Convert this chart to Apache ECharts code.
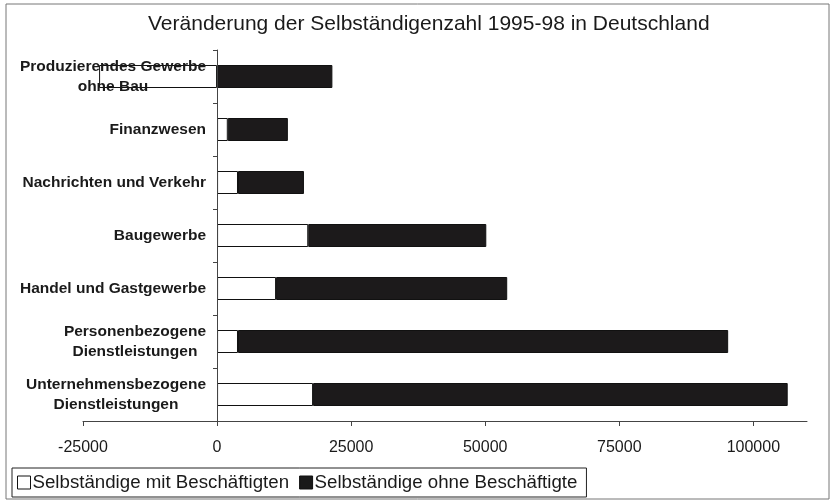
<!DOCTYPE html>
<html>
<head>
<meta charset="utf-8">
<title>Selbständigenzahl 1995-98</title>
<script src="https://cdn.jsdelivr.net/npm/echarts@6/dist/echarts.min.js"></script>
<style>
    html, body { margin: 0; padding: 0; background: #fff; }
    #chart { width: 835px; height: 502px; }
</style>
</head>
<body>
<div id="chart"></div>
<script>
// Branchen, von oben nach unten
var categories = [
    'Produzierendes Gewerbe\nohne Bau',
    'Finanzwesen',
    'Nachrichten und Verkehr',
    'Baugewerbe',
    'Handel und Gastgewerbe',
    'Personenbezogene\nDienstleistungen',
    'Unternehmensbezogene\nDienstleistungen'
];
var mitBeschaeftigten = [-22000, 2000, 3900, 17000, 11000, 3900, 17900];
var ohneBeschaeftigte = [21500, 11200, 12300, 33200, 43100, 91400, 88500];
var xTicks = [-25000, 0, 25000, 50000, 75000, 100000];

var chart = echarts.init(document.getElementById('chart'));

var font = 'Liberation Sans, Arial, sans-serif';

var option = {
    backgroundColor: '#fff',
    animation: false,
    title: {
        text: 'Veränderung der Selbständigenzahl 1995-98 in Deutschland',
        left: 143,
        top: 9,
        textStyle: {
            fontFamily: font,
            fontSize: 21,
            fontWeight: 'normal',
            color: '#1a1a1a'
        }
    },
    graphic: [{
        type: 'rect',
        shape: { x: 6, y: 4, width: 823, height: 495 },
        style: { fill: 'none', stroke: '#777', lineWidth: 1 },
        silent: true
    }],
    legend: {
        left: 12,
        top: 468,
        orient: 'horizontal',
        padding: [5, 9, 5, 5],
        itemGap: 10,
        itemWidth: 13,
        itemHeight: 13,
        borderColor: '#222',
        borderWidth: 1,
        textStyle: {
            fontFamily: font,
            fontSize: 18.7,
            color: '#1a1a1a',
            padding: [0, 0, 0, -3]
        },
        data: [{
            name: 'Selbständige mit Beschäftigten',
            icon: 'rect',
            itemStyle: { color: '#fff', borderColor: '#111', borderWidth: 1 }
        }, {
            name: 'Selbständige ohne Beschäftigte',
            icon: 'rect',
            itemStyle: { color: '#1a1a1a', borderColor: '#111', borderWidth: 1 }
        }]
    },
    grid: {
        left: 83,
        right: 28,
        top: 50,
        bottom: 81,
        containLabel: false,
        outerBoundsMode: 'none'
    },
    xAxis: {
        type: 'value',
        min: -25000,
        max: 110000,
        interval: 25000,
        splitLine: { show: false },
        axisLine: { show: true, onZero: false, lineStyle: { color: '#444', width: 1 } },
        axisTick: { show: true, length: 5, customValues: xTicks, lineStyle: { color: '#444' } },
        axisLabel: {
            customValues: xTicks,
            margin: 19,
            formatter: function(v) {
                return String(v);
            },
            fontFamily: font,
            fontSize: 16,
            color: '#1a1a1a'
        }
    },
    yAxis: {
        type: 'category',
        inverse: true,
        data: categories,
        z: 10,
        // Achse bei x = 0 (134 px rechts vom Rand)
        offset: -134,
        axisLine: { show: true, onZero: false, lineStyle: { color: '#444', width: 1 } },
        axisTick: { show: true, length: 4, lineStyle: { color: '#444' } },
        axisLabel: {
            margin: 11,
            formatter: function(value) {
                return '{c|' + value + '}';
            },
            rich: {
                c: {
                    align: 'center',
                    fontFamily: font,
                    fontSize: 15.5,
                    fontWeight: 'bold',
                    lineHeight: 20,
                    color: '#1a1a1a'
                }
            }
        }
    },
    series: [{
        name: 'Selbständige mit Beschäftigten',
        type: 'bar',
        stack: 'gesamt',
        barWidth: 23,
        itemStyle: { color: '#fff', borderColor: '#111', borderWidth: 1 },
        data: mitBeschaeftigten
    }, {
        name: 'Selbständige ohne Beschäftigte',
        type: 'bar',
        stack: 'gesamt',
        barWidth: 23,
        itemStyle: { color: '#1c1a1b', borderColor: '#111', borderWidth: 1 },
        data: ohneBeschaeftigte
    }]
};

chart.setOption(option);
</script>
</body>
</html>
